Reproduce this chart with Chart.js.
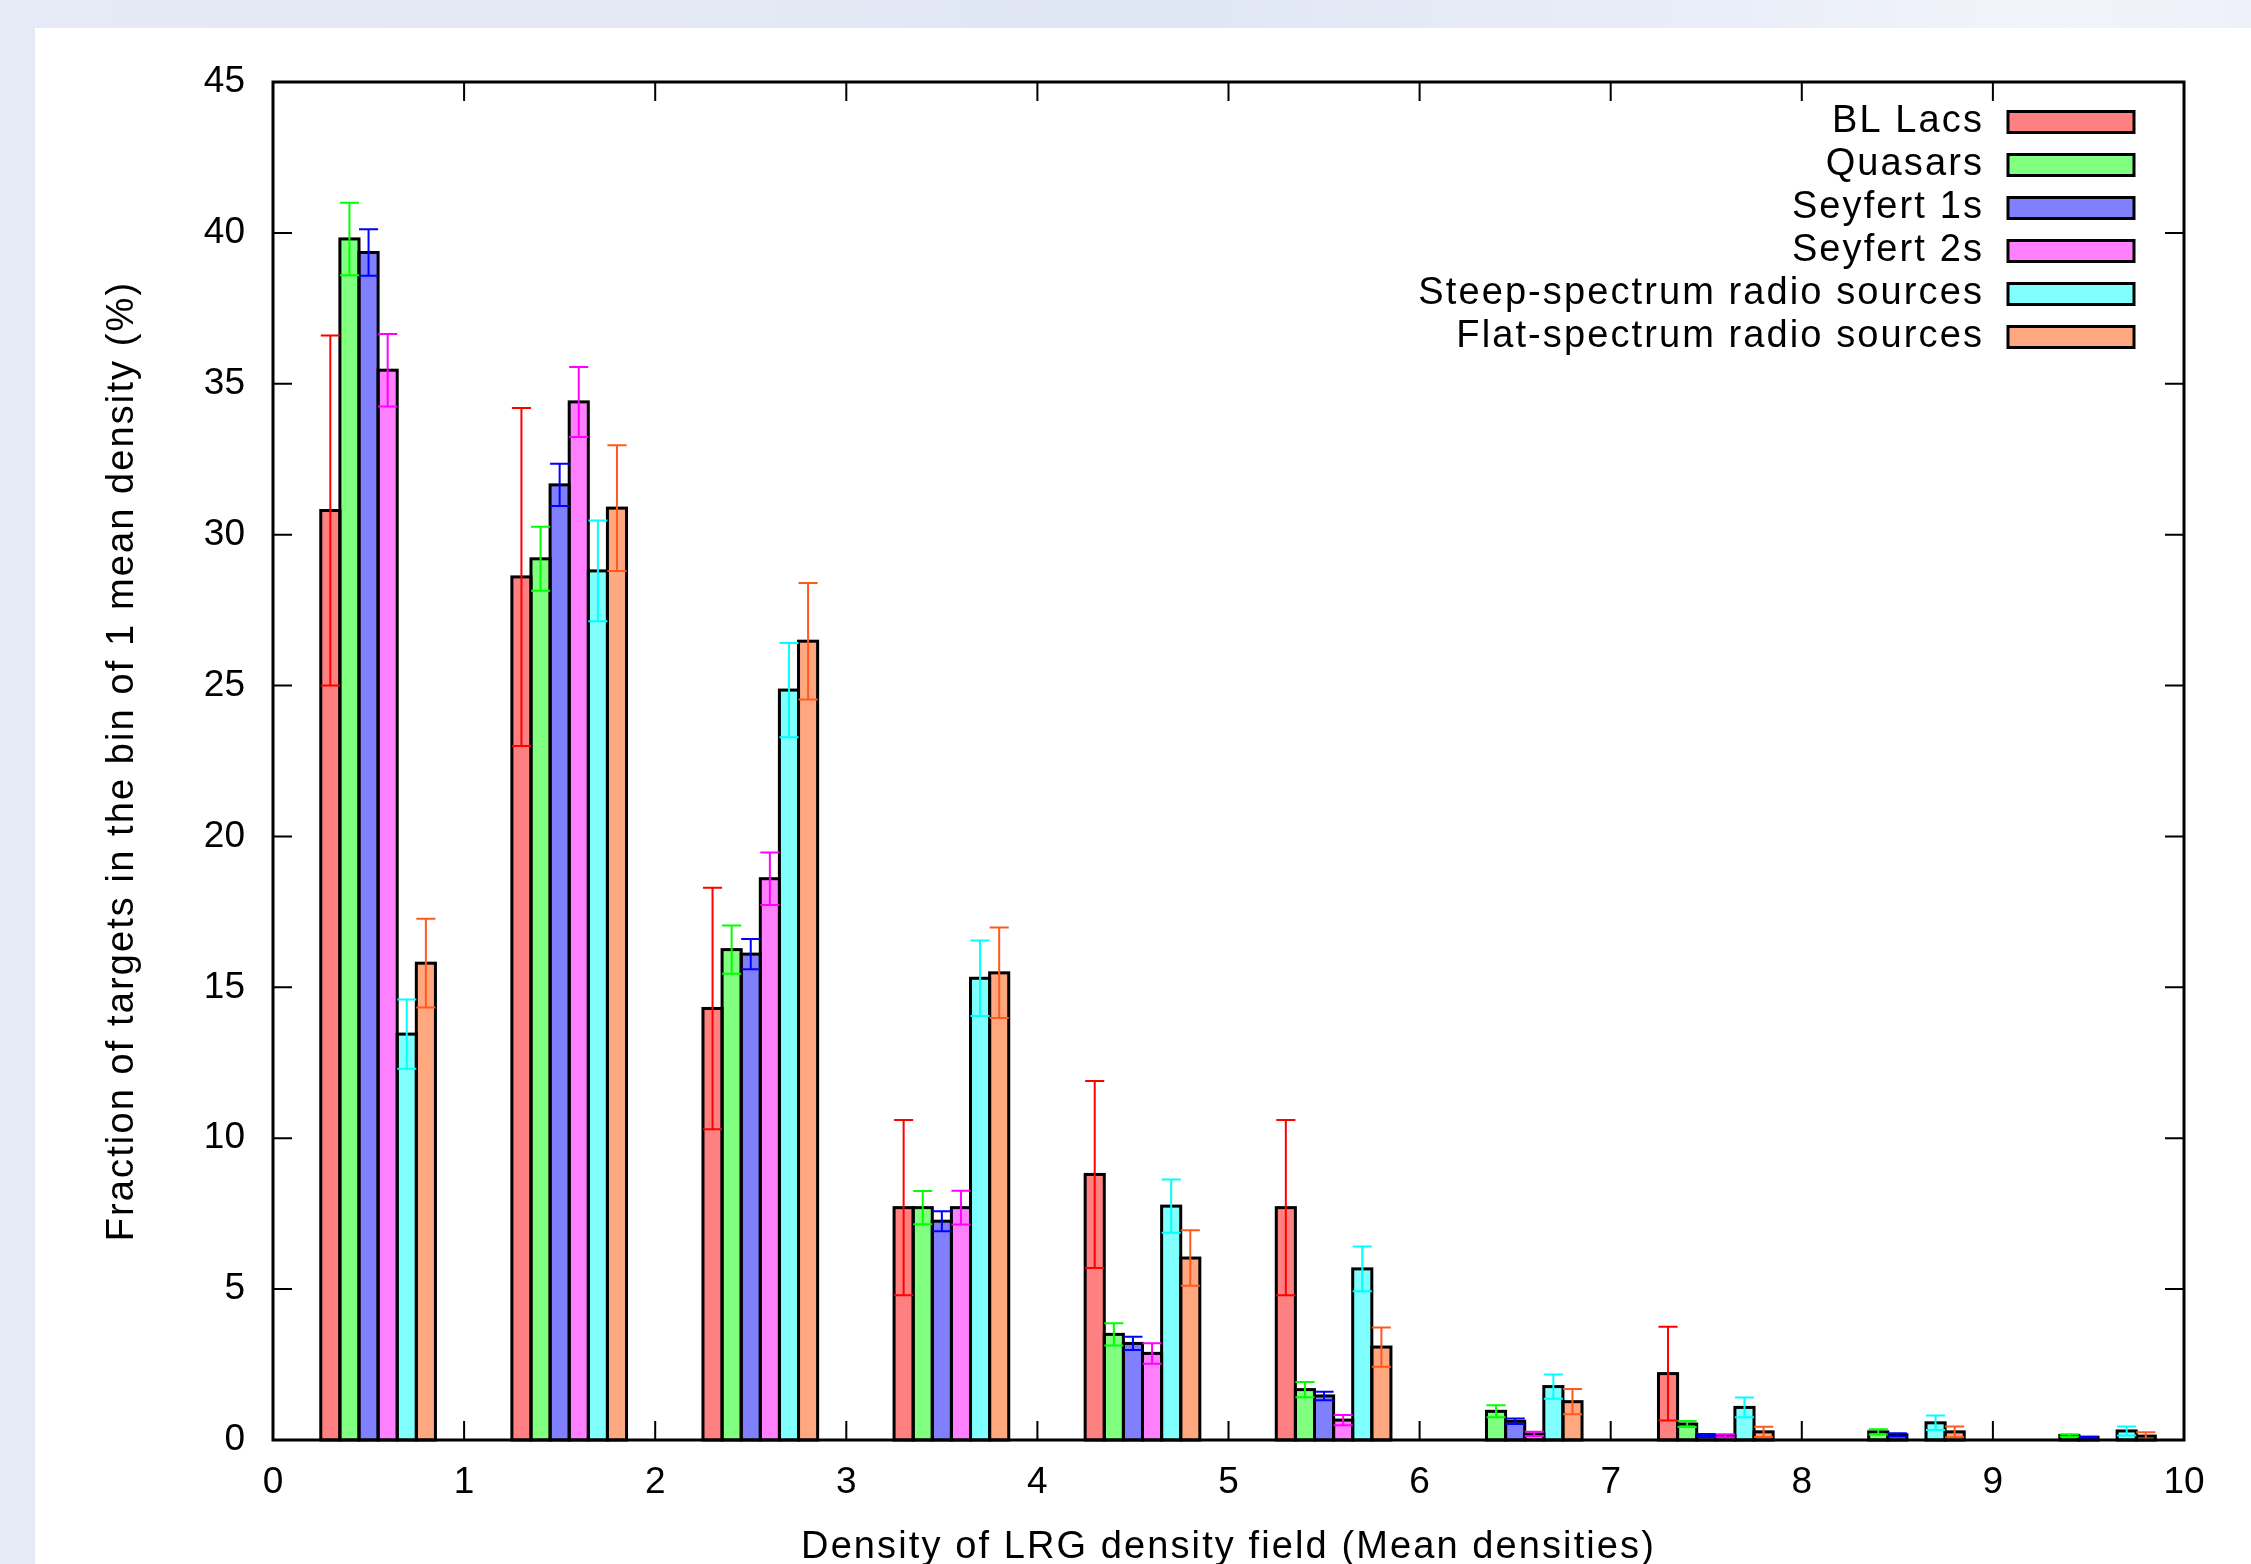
<!DOCTYPE html>
<html>
<head>
<meta charset="utf-8">
<script src="https://cdn.jsdelivr.net/npm/chart.js@4.4.1/dist/chart.umd.min.js"></script>
<style>
  html, body { margin: 0; padding: 0; overflow: hidden; }
  body {
    width: 2251px; height: 1564px;
    background: linear-gradient(90deg, #e6eaf6 0%, #e4e9f5 30%, #dfe6f4 50%, #e9edf8 75%, #f1f4fa 90%, #eef1f9 100%);
  }
  #wrap { position: absolute; left: 35px; top: 28px; }
  canvas { background: #fff; display: block; }
</style>
</head>
<body>
<div id="wrap"><canvas id="chart" width="2216" height="1560"></canvas></div>
<script>
// lower edge of each density bin (mean densities)
const bins = [0, 1, 2, 3, 4, 5, 6, 7, 8, 9];
const seriesNames = ['BL Lacs', 'Quasars', 'Seyfert 1s', 'Seyfert 2s',
  'Steep-spectrum radio sources', 'Flat-spectrum radio sources'];

const blLacs     = [30.8, 28.6, 14.3, 7.7, 8.8, 7.7, 0, 2.2, 0, 0];
const blLacsErr  = [5.8, 5.6, 4.0, 2.9, 3.1, 2.9, 0, 1.55, 0, 0];
const quasars    = [39.8, 29.2, 16.25, 7.7, 3.5, 1.67, 0.95, 0.53, 0.27, 0.15];
const quasarsErr = [1.2, 1.06, 0.8, 0.55, 0.37, 0.25, 0.2, 0.1, 0.09, 0.04];
const seyfert1   = [39.35, 31.65, 16.1, 7.25, 3.2, 1.46, 0.62, 0.15, 0.17, 0.09];
const seyfert1Err = [0.77, 0.7, 0.5, 0.33, 0.22, 0.14, 0.09, 0.05, 0.05, 0.02];
const seyfert2   = [35.45, 34.4, 18.6, 7.7, 2.87, 0.66, 0.2, 0.14, 0, 0];
const seyfert2Err = [1.2, 1.16, 0.87, 0.56, 0.34, 0.17, 0.07, 0.05, 0, 0];
const steep      = [13.45, 28.8, 24.85, 15.3, 7.75, 5.67, 1.77, 1.08, 0.57, 0.3];
const steepErr   = [1.15, 1.67, 1.56, 1.25, 0.88, 0.74, 0.4, 0.33, 0.24, 0.15];
const flat       = [15.8, 30.88, 26.47, 15.48, 6.03, 3.08, 1.27, 0.27, 0.27, 0.13];
const flatErr    = [1.47, 2.08, 1.93, 1.5, 0.92, 0.65, 0.42, 0.17, 0.18, 0.13];

const values = [blLacs, quasars, seyfert1, seyfert2, steep, flat];
const errors = [blLacsErr, quasarsErr, seyfert1Err, seyfert2Err, steepErr, flatErr];
const fillColors = ['#ff8080', '#80ff80', '#8080ff', '#ff80ff', '#80ffff', '#ffa880'];
const errColors = ['#ff0000', '#00ff00', '#0000ff', '#ff00ff', '#00ffff', '#ff5a1e'];

const FONT = "'Liberation Sans', Arial, Helvetica, sans-serif";
const GROUP_OFFSET = 0.55;
const TEXT_SPACING = '2.1px';

const datasets = values.map((vals, i) => ({
  label: seriesNames[i],
  data: vals.map((v, j) => ({ x: bins[j] + GROUP_OFFSET, y: v })),
  errors: errors[i],
  errorColor: errColors[i],
  backgroundColor: fillColors[i],
  borderWidth: 0,
  categoryPercentage: 0.6,
  barPercentage: 1.0
}));

// wider lettering for axis titles, plain spacing for tick labels
const spacing = {
  id: 'spacing',
  beforeDraw(chart) { chart.ctx.letterSpacing = TEXT_SPACING; },
  beforeDatasetsDraw(chart) { chart.ctx.letterSpacing = '0px'; }
};

const outlinesAndErrors = {
  id: 'outlinesAndErrors',
  afterDatasetsDraw(chart) {
    const { ctx } = chart;
    const y = chart.scales.y;
    ctx.save();
    chart.data.datasets.forEach((ds, i) => {
      const meta = chart.getDatasetMeta(i);
      ctx.strokeStyle = '#000';
      ctx.lineWidth = 3;
      meta.data.forEach((bar, j) => {
        if (!ds.data[j].y) return;
        ctx.strokeRect(bar.x - bar.width / 2, bar.y, bar.width, bar.base - bar.y);
      });
    });
    chart.data.datasets.forEach((ds, i) => {
      const meta = chart.getDatasetMeta(i);
      ctx.strokeStyle = ds.errorColor;
      ctx.lineWidth = 2;
      meta.data.forEach((bar, j) => {
        const e = ds.errors[j];
        if (!e) return;
        const v = ds.data[j].y;
        const yt = y.getPixelForValue(v + e);
        const yb = y.getPixelForValue(v - e);
        const half = bar.width / 2;
        ctx.beginPath();
        ctx.moveTo(bar.x, yt); ctx.lineTo(bar.x, yb);
        ctx.moveTo(bar.x - half, yt); ctx.lineTo(bar.x + half, yt);
        ctx.moveTo(bar.x - half, yb); ctx.lineTo(bar.x + half, yb);
        ctx.stroke();
      });
    });
    ctx.restore();
  }
};

const frame = {
  id: 'frame',
  afterDraw(chart) {
    const { ctx, chartArea: a } = chart;
    const { x, y } = chart.scales;
    const len = 19;
    ctx.save();
    ctx.strokeStyle = '#000';
    ctx.lineWidth = 2;
    ctx.beginPath();
    x.ticks.forEach(t => {
      if (t.value <= x.min || t.value >= x.max) return;
      const px = x.getPixelForValue(t.value);
      ctx.moveTo(px, a.bottom); ctx.lineTo(px, a.bottom - len);
      ctx.moveTo(px, a.top); ctx.lineTo(px, a.top + len);
    });
    y.ticks.forEach(t => {
      if (t.value <= y.min || t.value >= y.max) return;
      const py = y.getPixelForValue(t.value);
      ctx.moveTo(a.left, py); ctx.lineTo(a.left + len, py);
      ctx.moveTo(a.right, py); ctx.lineTo(a.right - len, py);
    });
    ctx.stroke();
    ctx.lineWidth = 3;
    ctx.strokeRect(a.left, a.top, a.right - a.left, a.bottom - a.top);

    // legend inside the plot, top right
    ctx.font = '38px ' + FONT;
    ctx.letterSpacing = TEXT_SPACING;
    ctx.textAlign = 'right';
    ctx.textBaseline = 'middle';
    chart.data.datasets.forEach((ds, i) => {
      const cy = a.top + 39.5 + i * 43;
      ctx.fillStyle = '#000';
      ctx.fillText(ds.label, a.right - 200, cy);
      ctx.fillStyle = ds.backgroundColor;
      ctx.fillRect(a.right - 176, cy - 10, 126, 21);
      ctx.lineWidth = 3;
      ctx.strokeRect(a.right - 176, cy - 10, 126, 21);
    });
    ctx.restore();
  }
};

new Chart(document.getElementById('chart'), {
  type: 'bar',
  data: { datasets: datasets },
  options: {
    responsive: false,
    animation: false,
    layout: { padding: { left: 0, top: 54, right: 67, bottom: 0 } },
    plugins: { legend: { display: false }, tooltip: { enabled: false } },
    scales: {
      x: {
        type: 'linear',
        min: 0, max: 10,
        offset: false,
        grid: { display: false, drawTicks: false },
        border: { display: false },
        ticks: { z: 1, stepSize: 1, padding: 21, color: '#000', font: { family: FONT, size: 37 } },
        title: {
          display: true,
          text: 'Density of LRG density field (Mean densities)',
          color: '#000',
          font: { family: FONT, size: 38 },
          padding: { top: 0, bottom: 18 }
        },
        afterFit(scale) { scale.height = 148; }
      },
      y: {
        min: 0, max: 45,
        grid: { display: false, drawTicks: false },
        border: { display: false },
        ticks: { z: 1, stepSize: 5, padding: 28, color: '#000', font: { family: FONT, size: 37 } },
        title: {
          display: true,
          text: 'Fraction of targets in the bin of 1 mean density (%)',
          color: '#000',
          font: { family: FONT, size: 38 },
          padding: { top: 65, bottom: 0 }
        },
        afterFit(scale) { scale.width = 238; }
      }
    }
  },
  plugins: [spacing, outlinesAndErrors, frame]
});
</script>
</body>
</html>
